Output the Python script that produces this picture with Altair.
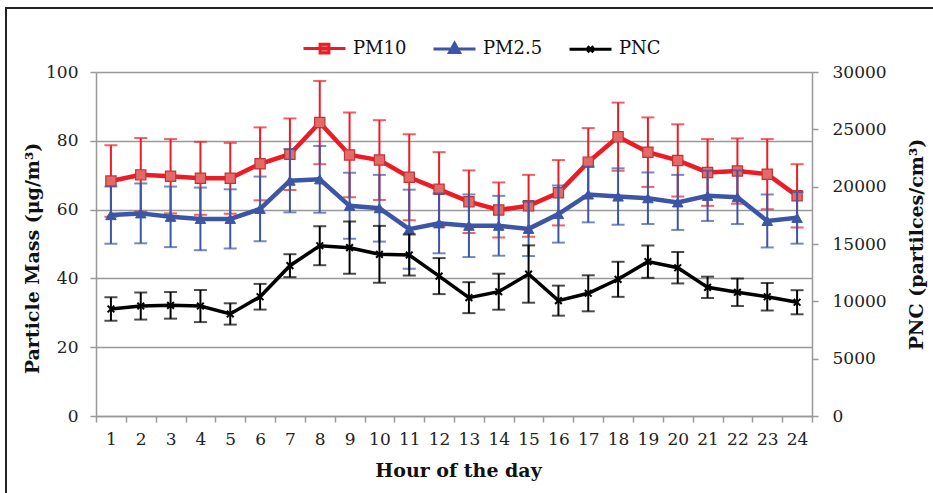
import altair as alt
import pandas as pd

hours = list(range(1, 25))
pm10 = [68.3, 70.1, 69.7, 69.1, 69.1, 73.3, 76.1, 85.3, 75.9, 74.4, 69.4, 65.9,
        62.3, 59.9, 61.1, 64.9, 73.8, 81.2, 76.7, 74.3, 70.8, 71.2, 70.3, 64.0]
pm10_err = [10.4, 10.7, 10.8, 10.6, 10.3, 10.6, 10.4, 12.1, 12.3, 11.6, 12.5, 10.8,
            9.1, 8.0, 9.0, 9.5, 9.9, 9.9, 10.1, 10.5, 9.7, 9.5, 10.2, 9.2]
pm25 = [58.4, 58.9, 57.9, 57.3, 57.3, 60.2, 68.4, 68.8, 61.1, 60.4, 54.3, 56.0,
        55.3, 55.3, 54.4, 58.7, 64.4, 63.8, 63.3, 62.1, 64.0, 63.6, 56.7, 57.6]
pm25_err = [8.3, 8.7, 8.8, 9.1, 8.6, 9.4, 9.2, 9.7, 9.6, 9.7, 11.5, 8.7,
            9.1, 8.7, 7.9, 8.3, 8.1, 8.2, 7.5, 8.0, 7.3, 7.8, 7.7, 7.5]
pnc = [9330, 9590, 9650, 9590, 8900, 10400, 13110, 14850, 14680, 14100, 14040, 12200,
       10320, 10840, 12380, 10060, 10700, 11920, 13460, 12930, 11220, 10790, 10400, 9920]
pnc_err = [1020, 1180, 1160, 1400, 930, 1120, 1000, 1700, 2280, 2480, 1790, 1570,
           1350, 1570, 2500, 1310, 1570, 1530, 1410, 1370, 930, 1200, 1200, 1050]

series_names = ["PM10", "PM2.5", "PNC"]
line_colors = ["#ed1c24", "#3c55a5", "#000000"]
fill_colors = ["#e46a6a", "#3c55a5", "#000000"]
legend_paths = [
    "M-1,0H1M-0.21,-0.21H0.21V0.21H-0.21Z",
    "M-1,0H1M0,-0.27L0.24,0.17H-0.24Z",
    "M-1,0H1M-0.14,-0.14L0.14,0.14M-0.14,0.14L0.14,-0.14",
]


def frame(vals, errs, name):
    return pd.DataFrame({
        "hour": hours,
        "value": vals,
        "lo": [v - e for v, e in zip(vals, errs)],
        "hi": [v + e for v, e in zip(vals, errs)],
        "series": name,
    })


d10 = frame(pm10, pm10_err, "PM10")
d25 = frame(pm25, pm25_err, "PM2.5")
dpn = frame(pnc, pnc_err, "PNC")

FONT = "DejaVu Serif"

x_enc = alt.X(
    "hour:O",
    scale=alt.Scale(type="band", paddingInner=0, paddingOuter=0),
    axis=alt.Axis(
        title="Hour of the day", labelAngle=0, tickBand="extent",
        tickSize=6, labelPadding=9, domainColor="#999999", tickColor="#999999",
        domainWidth=1.5, tickWidth=1.5,
        labelFont=FONT, labelFontSize=17, labelColor="#222222",
        titleFont=FONT, titleFontSize=19, titleFontWeight="bold", titleColor="#111111",
        titleX=362, titleY=54, titleBaseline="middle", titleAlign="center",
    ),
)

left_axis = alt.Axis(
    title="Particle Mass (μg/m³)", values=[0, 20, 40, 60, 80, 100],
    grid=True, gridColor="#999999", gridWidth=1.6,
    tickSize=6, labelPadding=12, domainColor="#999999", tickColor="#999999",
    domainWidth=1.5, tickWidth=1.5,
    labelFont=FONT, labelFontSize=17, labelColor="#222222",
    titleFont=FONT, titleFontSize=19, titleFontWeight="bold", titleColor="#111111",
    titleAngle=270, titleX=-64, titleY=186, titleBaseline="middle", titleAlign="center",
)
y_left = alt.Scale(domain=[0, 100], nice=False)

right_axis = alt.Axis(
    title="PNC (partilces/cm³)", orient="right",
    values=[0, 5000, 10000, 15000, 20000, 25000, 30000], format="d",
    grid=False, tickSize=6, labelPadding=14, domainColor="#999999", tickColor="#999999",
    domainWidth=1.5, tickWidth=1.5,
    labelFont=FONT, labelFontSize=17, labelColor="#222222",
    titleFont=FONT, titleFontSize=19, titleFontWeight="bold", titleColor="#111111",
    titleAngle=270, titleX=104, titleY=172, titleBaseline="middle", titleAlign="center",
)
y_right = alt.Scale(domain=[0, 30000], nice=False)


def series_layers(df, color, axis, scale, line_w, err_w, point_mark):
    base = alt.Chart(df)
    bars = base.mark_rule(color=color, strokeWidth=err_w).encode(
        x=x_enc, y=alt.Y("lo:Q", scale=scale, axis=axis), y2="hi:Q")
    cap_lo = base.mark_tick(color=color, thickness=err_w, size=13).encode(
        x=x_enc, y=alt.Y("lo:Q", scale=scale, axis=axis))
    cap_hi = base.mark_tick(color=color, thickness=err_w, size=13).encode(
        x=x_enc, y=alt.Y("hi:Q", scale=scale, axis=axis))
    line = base.mark_line(color=color, strokeWidth=line_w).encode(
        x=x_enc, y=alt.Y("value:Q", scale=scale, axis=axis))
    pts = base.mark_point(**point_mark).encode(
        x=x_enc, y=alt.Y("value:Q", scale=scale, axis=axis))
    return [bars, cap_lo, cap_hi, line, pts]


pm10_layers = series_layers(
    d10, line_colors[0], left_axis, y_left, 4.5, 2,
    dict(shape="square", size=105, filled=True, fill=fill_colors[0],
         stroke="#c23434", strokeWidth=1.2, opacity=1))
pm25_layers = series_layers(
    d25, line_colors[1], left_axis, y_left, 4.5, 2,
    dict(shape="triangle-up", size=110, filled=True, fill=fill_colors[1],
         stroke=line_colors[1], strokeWidth=1, opacity=1))
pnc_layers = series_layers(
    dpn, line_colors[2], right_axis, y_right, 3.5, 2,
    dict(shape="M-1,-1L1,1M-1,1L1,-1", size=45, filled=False,
         stroke="#000000", strokeWidth=2, opacity=1))

left = alt.layer(*pm10_layers, *pm25_layers)
right = alt.layer(*pnc_layers)

legend_df = pd.DataFrame({"series": series_names, "hour": [1, 2, 3]})
legend_layer = alt.Chart(legend_df).transform_filter("false").mark_point(
    filled=True, opacity=1
).encode(
    x=x_enc,
    stroke=alt.Stroke("series:N", scale=alt.Scale(domain=series_names, range=line_colors),
                      legend=alt.Legend(title=None)),
    fill=alt.Fill("series:N", scale=alt.Scale(domain=series_names, range=fill_colors),
                  legend=alt.Legend(title=None)),
    shape=alt.Shape("series:N", scale=alt.Scale(domain=series_names, range=legend_paths),
                    legend=alt.Legend(title=None)),
)

frame_df = pd.DataFrame({"k": [0]})
frame_layer = alt.Chart(frame_df).mark_rect(
    filled=False, stroke="#222222", strokeWidth=2
).encode(
    x=alt.value(-90), x2=alt.value(1000), y=alt.value(-64), y2=alt.value(600)
)

chart = alt.layer(left, right, legend_layer, frame_layer).resolve_scale(
    y="independent"
).properties(
    width=716, height=344,
    autosize=alt.AutoSizeParams(type="none"),
    padding={"left": 96, "top": 72, "right": 121, "bottom": 77},
).configure_view(
    stroke=None
).configure_legend(
    orient="none", legendX=206, legendY=-46, direction="horizontal",
    symbolSize=1764, symbolStrokeWidth=3, labelFont=FONT, labelFontSize=18,
    labelColor="#111111", labelOffset=6, columnPadding=20, symbolOpacity=1,
)

chart.save("out.html", embed_options={"renderer": "svg", "actions": False})
